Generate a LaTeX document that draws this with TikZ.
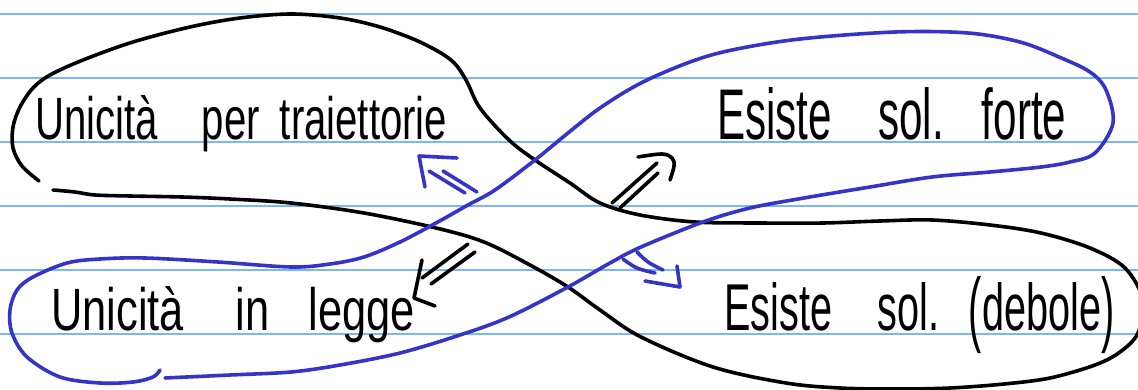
\documentclass[tikz,border=0pt]{standalone}
\usepackage{fontspec}
\setmainfont{Liberation Sans}
\usepackage{graphicx}
\definecolor{ruleblue}{RGB}{120,184,248}
\definecolor{penblue}{RGB}{52,52,200}
\begin{document}
\begin{tikzpicture}[x=1pt,y=-1pt,line cap=round,line join=round,
  ink/.style={line width=3.6pt,black},
  blueink/.style={line width=3.6pt,penblue},
  ruleline/.style={line width=1.8pt,ruleblue},
  hand/.style={anchor=base west,inner sep=0pt,font=\fontsize{20}{24}\selectfont}]
\useasboundingbox (0,0) rectangle (1138,390);
\begin{scope}
\clip (0,0) rectangle (1138,390);
\fill[white] (0,0) rectangle (1138,390);
\foreach \y in {14,78,142,206,270,334} \draw[ruleline] (0,\y) -- (1138,\y);

% black loop
\draw[ink] plot[smooth,tension=0.55] coordinates {(39,181) (22,166) (13,148) (13,127) (20,107) (33,88) (50,75) (83,60) (133,42) (190,27) (240,18) (291,14) (340,18) (380,27) (420,42) (451,60) (466,80) (480,108) (509,140) (535,160) (570,183) (600,203) (640,215) (695,222) (760,223) (823,223) (880,221) (932,220) (990,225) (1041,233) (1090,248) (1125,268) (1143,300) (1138,333) (1120,352) (1095,365) (1050,378) (1004,384) (950,388) (895,389) (840,388) (786,383) (713,367) (641,337) (600,310) (568,287) (530,265) (484,242) (436,228) (364,213) (291,203) (230,199) (182,197) (130,196) (95,195) (75,192) (53,190)};

% blue loop
\draw[blueink] plot[smooth,tension=0.55] coordinates {(160,370) (153,377) (133,382) (100,383) (60,377) (27,357) (12,333) (10,310) (17,290) (33,277) (67,263) (100,259) (145,258) (218,262) (291,267) (330,264) (364,257) (400,242) (436,223) (468,205) (495,190) (535,160) (568,133) (600,108) (641,83) (690,62) (732,50) (800,39) (895,32) (968,33) (1020,42) (1059,57) (1090,72) (1106,90) (1113,123) (1095,153) (1070,162) (1041,167) (990,172) (932,177) (870,187) (804,198) (750,208) (703,222) (641,247) (610,263) (568,287) (509,317) (460,335) (400,353) (340,365) (291,372) (230,375) (165,378)};
\end{scope}

% texts
\node[hand] (upt) at (35,140) {\resizebox{412pt}{44pt}{Unicità\hspace{1.1em}per\hspace{0.5em}traiettorie}};
\node[hand] (esf) at (717,140) {\resizebox{349pt}{52pt}{Esiste\hspace{1.1em}sol.\hspace{0.9em}forte}};
\node[hand] (uil) at (51,330) {\resizebox{364pt}{44pt}{Unicità\hspace{1.2em}in\hspace{0.9em}legge}};
\node[hand] (esd) at (724,330) {\resizebox{390pt}{48pt}{Esiste\hspace{1.15em}sol.\hspace{0.75em}\smash{\raisebox{-0.2ex}{\scalebox{1}[1.25]{(}}}debole\smash{\raisebox{-0.2ex}{\scalebox{1}[1.25]{)}}}}};

% arrow coordinates
\coordinate (a1tip) at (419,156);
\coordinate (a2tip) at (670,157);
\coordinate (a3tip) at (414,298);
\coordinate (a4tip) at (680,287);

% blue arrow: traiettorie <=
\draw[blueink] (429,171) -- (465,193);
\draw[blueink] (443,171) -- (477,192);
\draw[blueink] (425,187) -- (a1tip) -- (457,158);

% black arrow => forte
\draw[ink] (612,203) -- (657,163);
\draw[ink] (620,208) -- (658,173);
\draw[ink] plot[smooth,tension=0.6] coordinates {(638,157) (662,154) (672,158) (674,166) (670,180)};

% black arrow => legge
\draw[ink] (468,244) -- (422,278);
\draw[ink] (475,252) -- (431,284);
\draw[ink] (422,260) -- (a3tip) -- (435,306);

% blue arrow => debole
\draw[blueink] plot[smooth,tension=0.6] coordinates {(637,252) (648,262) (663,270)};
\draw[blueink] plot[smooth,tension=0.6] coordinates {(623,259) (637,268) (655,273)};
\draw[blueink] (645,281) -- (a4tip) -- (677,266);
\end{tikzpicture}
\end{document}
